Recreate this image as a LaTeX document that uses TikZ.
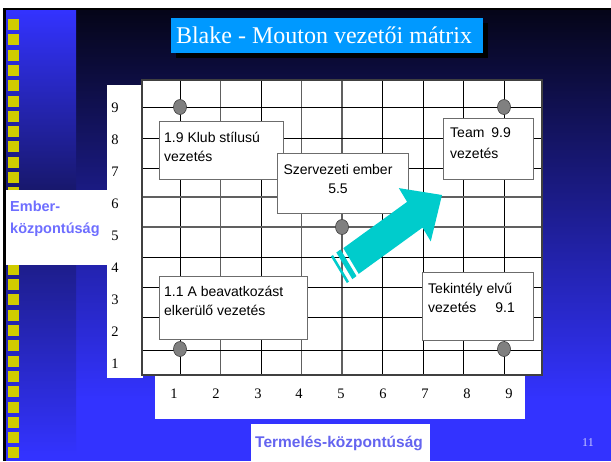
\documentclass[tikz,border=0pt]{standalone}
\usepackage{fontspec}
\setmainfont{Liberation Serif}
\newfontfamily\arialf{Liberation Sans}
\usetikzlibrary{shapes.geometric}
\definecolor{bgtop}{RGB}{5,5,24}
\definecolor{bgmid}{RGB}{36,36,170}
\definecolor{bgbot}{RGB}{51,51,255}
\definecolor{stripmid}{RGB}{22,22,100}
\definecolor{ysq}{RGB}{208,204,0}
\definecolor{titleblue}{RGB}{0,153,255}
\definecolor{labelblue}{RGB}{110,110,255}
\definecolor{labelbluetwo}{RGB}{100,100,240}
\definecolor{arrowcyan}{RGB}{0,204,204}
\definecolor{gridborder}{RGB}{64,64,64}
\definecolor{pagecol}{RGB}{200,200,255}
\tikzset{
  bline/.style={black, line width=0.8pt},
  gline/.style={gray!75!black, line width=1.2pt},
  dotmark/.style={ellipse, draw=gridborder, fill=gray, line width=0.6pt, minimum width=13pt, minimum height=15pt, inner sep=0},
  tbox/.style={draw=gray!85!black, fill=white, line width=0.8pt, inner sep=0},
  btext/.style={font=\arialf\fontsize{14}{19.5}\selectfont, align=left, inner sep=0},
  numlab/.style={font=\fontsize{14.5}{17}\selectfont, inner sep=0},
}
\begin{document}
\begin{tikzpicture}[x=1pt,y=-1pt]
\useasboundingbox (0,0) rectangle (611,461);
\fill[white] (0,0) rectangle (611,461);
\fill[black] (3,8) rectangle (611,461);
% main background gradient
\shade[top color=bgtop, middle color=bgmid, bottom color=bgbot] (6,10) rectangle (611,400);
\fill[bgbot] (6,399.5) rectangle (611,461);
% left strip
\shade[top color=bgbot, bottom color=stripmid] (6,10) rectangle (76,200);
\shade[top color=stripmid, bottom color=bgbot] (6,199.5) rectangle (76,455);
\fill[bgbot] (6,454.5) rectangle (76,461);
% yellow squares
\foreach \k in {0,...,28} \fill[ysq] (8,{19+15.3*\k}) rectangle ++(11,11);
% white label areas
\fill[white] (6,190) rectangle (107,265);
\fill[white] (107,85) rectangle (143,378);
\fill[white] (155,375) rectangle (525,419);
\fill[white] (251,424) rectangle (430,461);
% grid
\fill[white] (142,80) rectangle (542,375);
\foreach \xx in {180,261,382.5,423,463.5,504} \draw[bline] (\xx,80) -- (\xx,375);
\foreach \xx in {220.5,301.5,342} \draw[gline] (\xx,80) -- (\xx,375);
\foreach \yy in {107,138,168,257,287,317,350} \draw[bline] (141,\yy) -- (543,\yy);
\foreach \yy in {197,227} \draw[gline] (141,\yy) -- (543,\yy);
\draw[gridborder, line width=1.2pt] (142,80) rectangle (542,375);
% marks
\node[dotmark] (c19) at (180,107) {};
\node[dotmark] (c99) at (504,107) {};
\node[dotmark] (c55) at (342,227) {};
\node[dotmark] (c11) at (180,349) {};
\node[dotmark] (c91) at (504,349) {};
% boxes
\node[tbox, minimum width=124pt, minimum height=58pt] (b19) at (221,150) {};
\node[tbox, minimum width=131pt, minimum height=60pt] (b55) at (342.5,183) {};
\node[tbox, minimum width=90pt, minimum height=61pt] (b99) at (488,148.5) {};
\node[tbox, minimum width=148pt, minimum height=63pt] (b11) at (233,307.5) {};
\node[tbox, minimum width=111pt, minimum height=68pt] (b91) at (477.5,306) {};
\node[btext, anchor=north west] (t19) at (164,128.3) {\strut 1.9 Klub stílusú\\vezetés};
\node[btext, align=center, anchor=north] (t55) at (338,160.3) {\strut Szervezeti ember\\5.5};
\node[btext, font=\arialf\fontsize{14}{21}\selectfont, anchor=north west] (t99) at (450,122.3) {\strut Team\hspace{7pt}9.9\\vezetés};
\node[btext, anchor=north west] (t11) at (164,282.3) {\strut 1.1 A beavatkozást\\elkerülő vezetés};
\node[btext, anchor=north west] (t91) at (428,279.3) {\strut Tekintély elvű\\vezetés\hspace{19pt}9.1};
% striped block arrow (tip at origin)
\begin{scope}[shift={(442,195)}, yscale=1.1, rotate=33.4]
\fill[arrowcyan] (-109,-14) -- (-32.6,-14) -- (-32.6,-29) -- (0,0) -- (-32.6,29) -- (-32.6,14) -- (-109,14) -- cycle;
\fill[arrowcyan] (-117,-14.5) rectangle (-112,14.5);
\fill[arrowcyan] (-123.5,-14.5) rectangle (-121,14.5);
\end{scope}
% axis numbers
\foreach \n/\yy in {9/112,8/144,7/176,6/208,5/240,4/272,3/304,2/336,1/368}
  \node[numlab, anchor=base] (yl\n) at (115,\yy) {\n};
\foreach \n/\xx in {1/174,2/216,3/258,4/299,5/341,6/383,7/425,8/467,9/509}
  \node[numlab, anchor=base] (xl\n) at (\xx,398) {\n};
% title
\fill[black] (176,23) rectangle (488,58);
\node[fill=titleblue, minimum width=312pt, minimum height=35pt, inner sep=0] (titlebox) at (327,35.5) {};
\node[anchor=base, text=white, font=\fontsize{24}{28}\selectfont, inner sep=0] (title) at (324,43) {Blake - Mouton vezetői mátrix};
% axis titles
\node[anchor=north west, font=\arialf\bfseries\fontsize{14.5}{22}\selectfont, text=labelblue, align=left, inner sep=0] (ember) at (10,195.6) {\strut Ember-\\központúság};
\node[anchor=base west, font=\arialf\bfseries\fontsize{15.5}{18}\selectfont, text=labelbluetwo, inner sep=0] (termeles) at (255,447) {Termelés-központúság};
\node[anchor=base, font=\fontsize{12}{14}\selectfont, text=pagecol, inner sep=0] (pnum) at (588,446) {11};
\end{tikzpicture}
\end{document}
